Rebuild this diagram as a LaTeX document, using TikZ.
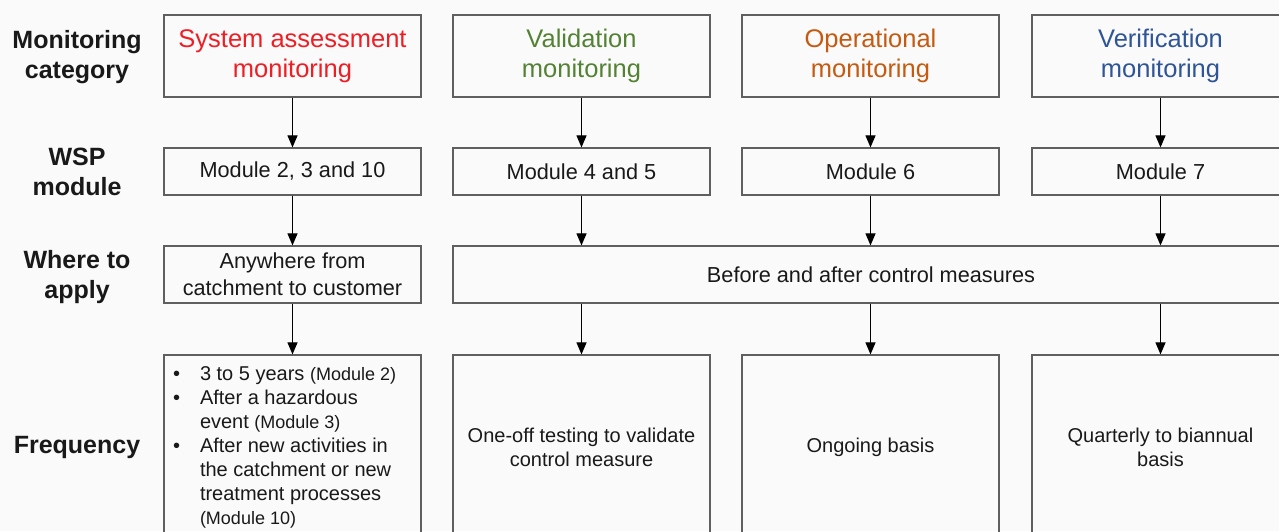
\documentclass[tikz,border=0pt]{standalone}
\usepackage{xcolor}
\usepackage{fontspec}
\setmainfont{Liberation Sans}
\usetikzlibrary{arrows.meta}

\definecolor{sysred}{RGB}{238,30,36}
\definecolor{valgreen}{RGB}{84,130,53}
\definecolor{opsorange}{RGB}{197,90,17}
\definecolor{verblue}{RGB}{47,85,151}
\definecolor{boxline}{RGB}{95,95,95}
\definecolor{paper}{RGB}{250,250,250}
\definecolor{ink}{RGB}{25,25,25}

\begin{document}
\begin{tikzpicture}[x=1pt,y=-1pt,every node/.style={text=ink,inner sep=0pt,align=center},
    box/.style={draw=boxline,line width=1.2pt,minimum width=257pt,font=\fontsize{21.7}{27}\selectfont},
    catbox/.style={box,minimum height=82pt,font=\fontsize{25.5}{30}\selectfont},
    modbox/.style={box,minimum height=47pt},
    applybox/.style={box,minimum height=57pt},
    freqbox/.style={box,minimum height=185pt,font=\fontsize{20}{24}\selectfont},
    rowlabel/.style={font=\bfseries\fontsize{25}{30}\selectfont},
    flow/.style={-{Triangle[length=12pt,width=10pt]},line width=1.1pt}]
  \clip (0,0) rectangle (1279,531);
  \fill[paper] (0,0) rectangle (1279,531);

  % row labels
  \node[rowlabel] (lcat) at (77,57) {Monitoring\\category};
  \node[rowlabel] (lwsp) at (77,172) {WSP\\module};
  \node[rowlabel] (lwhere) at (77,277) {Where to\\apply};
  \node[rowlabel] (lfreq) at (77,447) {Frequency};

  % monitoring categories
  \node[catbox,text=sysred] (c1) at (292.5,56) {System assessment\\monitoring};
  \node[catbox,text=valgreen] (c2) at (581.5,56) {Validation\\monitoring};
  \node[catbox,text=opsorange] (c3) at (870.5,56) {Operational\\monitoring};
  \node[catbox,text=verblue] (c4) at (1160.5,56) {Verification\\monitoring};

  % WSP modules
  \node[modbox] (m1) at (292.5,171.5) {Module 2, 3 and 10};
  \node[modbox] (m2) at (581.5,171.5) {Module 4 and 5};
  \node[modbox] (m3) at (870.5,171.5) {Module 6};
  \node[modbox] (m4) at (1160.5,171.5) {Module 7};

  % where to apply
  \node[applybox] (w1) at (292.5,274.5) {Anywhere from\\catchment to customer};
  \node[applybox,minimum width=836pt] (w2) at (871,274.5) {Before and after control measures};

  % frequency
  \node[freqbox] (f1) at (292.5,447.5) {%
    \begin{tabular}{@{}l@{\hspace{20pt}}p{212pt}@{}}
      \textbullet & 3 to 5 years {\fontsize{18}{24}\selectfont(Module 2)}\\
      \textbullet & After a hazardous\\
                  & event {\fontsize{18}{24}\selectfont(Module 3)}\\
      \textbullet & After new activities in\\
                  & the catchment or new\\
                  & treatment processes\\
                  & {\fontsize{18}{24}\selectfont(Module 10)}
    \end{tabular}};
  \node[freqbox] (f2) at (581.5,447.5) {One-off testing to validate\\control measure};
  \node[freqbox] (f3) at (870.5,447.5) {Ongoing basis};
  \node[freqbox] (f4) at (1160.5,447.5) {Quarterly to biannual\\basis};

  % arrows
  \draw[flow] (c1) -- (m1);
  \draw[flow] (c2) -- (m2);
  \draw[flow] (c3) -- (m3);
  \draw[flow] (c4) -- (m4);
  \draw[flow] (m1) -- (w1);
  \draw[flow] (m2.south) -- (m2.south |- w2.north);
  \draw[flow] (m3.south) -- (m3.south |- w2.north);
  \draw[flow] (m4.south) -- (m4.south |- w2.north);
  \draw[flow] (w1) -- (f1);
  \draw[flow] (f2.north |- w2.south) -- (f2.north);
  \draw[flow] (f3.north |- w2.south) -- (f3.north);
  \draw[flow] (f4.north |- w2.south) -- (f4.north);
\end{tikzpicture}
\end{document}
